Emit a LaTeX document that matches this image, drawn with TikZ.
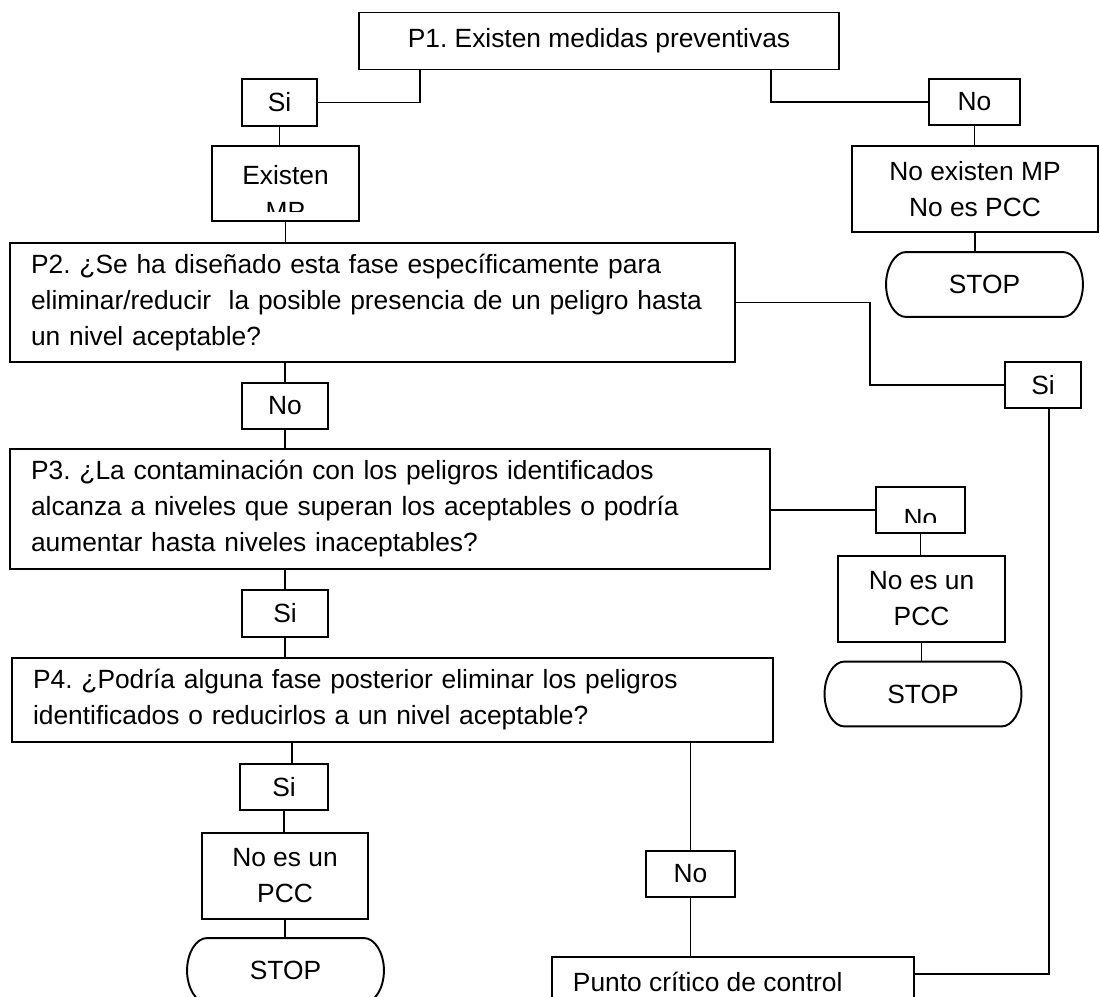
\documentclass[tikz,border=0pt]{standalone}
\usepackage{fontspec}
\setmainfont{Liberation Sans}
\usepackage{tikz}
\usetikzlibrary{calc}
\usetikzlibrary{positioning}
\frenchspacing

\tikzset{
  question/.style={shape=rectangle, draw=black, inner xsep=0.42cm, inner ysep=0pt, align=left},
  answer/.style={shape=rectangle, draw=black, inner sep=0pt, align=center},
  terminal/.style={shape=rectangle, inner sep=0pt, minimum width=3.9cm, minimum height=1.26cm}
}

% outline of a STOP terminal, elliptic ends
\newcommand{\stopoutline}[1]{%
  \draw ([xshift=0.4cm]#1.north west) -- ([xshift=-0.4cm]#1.north east)
    .. controls ([xshift=-0.179cm]#1.north east) and ([yshift=0.348cm]#1.east) .. (#1.east)
    .. controls ([yshift=-0.348cm]#1.east) and ([xshift=-0.179cm]#1.south east) .. ([xshift=-0.4cm]#1.south east)
    -- ([xshift=0.4cm]#1.south west)
    .. controls ([xshift=0.179cm]#1.south west) and ([yshift=-0.348cm]#1.west) .. (#1.west)
    .. controls ([yshift=0.348cm]#1.west) and ([xshift=0.179cm]#1.north west) .. ([xshift=0.4cm]#1.north west)
    -- cycle;}

\begin{document}
\begin{tikzpicture}[x=0.02cm, y=-0.02cm, line width=1.1pt, font=\fontsize{15}{20.5}\selectfont]
        \useasboundingbox (0,0) rectangle (1100,997);
        \clip (0,0) rectangle (1100,997);

        % questions
        \node (p1) at (599,41) [answer, minimum width=9.6cm, minimum height=1.14cm] {P1. Existen medidas preventivas};
        \node (p2) at (372.5,302.5) [question, text width=13.66cm, minimum height=2.38cm] {P2. ¿Se ha diseñado esta fase específicamente para\\eliminar/reducir\ \ la posible presencia de un peligro hasta\\un nivel aceptable?};
        \node (p3) at (390,509) [question, text width=14.36cm, minimum height=2.4cm] {P3. ¿La contaminación con los peligros identificados\\alcanza a niveles que superan los aceptables o podría\\aumentar hasta niveles inaceptables?};
        \node (p4) at (392.5,700) [question, text width=14.38cm, minimum height=1.68cm] {P4. ¿Podría alguna fase posterior eliminar los peligros\\identificados o reducirlos a un nivel aceptable?};

        % answers
        \node (si1) at (279.5,102.5) [answer, minimum width=1.5cm, minimum height=0.94cm] {Si};
        \node (no1) at (974.5,102) [answer, minimum width=1.82cm, minimum height=0.92cm] {No};
        \node (no2) at (285,406) [answer, minimum width=1.72cm, minimum height=0.92cm] {No};
        \node (si2) at (1043,385) [answer, minimum width=1.52cm, minimum height=0.92cm] {Si};
        \node (no3) at (920.5,510) [answer, minimum width=1.78cm, minimum height=0.92cm] {};
        \node (si3) at (285,613.5) [answer, minimum width=1.72cm, minimum height=0.94cm] {Si};
        \node (si4) at (284,787) [answer, minimum width=1.76cm, minimum height=0.92cm] {Si};
        \node (no4) at (690.5,874) [answer, minimum width=1.78cm, minimum height=0.92cm] {No};

        % results
        \node (mp) at (285.5,183.5) [answer, minimum width=2.94cm, minimum height=1.5cm] {};
        \node (nomp) at (975,189) [answer, minimum width=4.92cm, minimum height=1.72cm] {No existen MP\\No es PCC};
        \node (pcc1) at (921.5,599) [answer, minimum width=3.34cm, minimum height=1.72cm] {No es un\\PCC};
        \node (pcc2) at (285,876) [answer, minimum width=3.32cm, minimum height=1.72cm] {No es un\\PCC};
        \node (punto) at (733,997) [answer, minimum width=7.24cm, minimum height=1.6cm] {};
        \node (puntotext) at (572,982) [anchor=west, inner sep=0pt] {Punto crítico de control};

        % texts cut by their boxes
        \begin{scope}
            \clip (mp.north west) rectangle ([yshift=0.2cm]mp.south east);
            \node (mptext) at (285.5,192.5) [align=center] {Existen\\MP};
        \end{scope}
        \begin{scope}
            \clip (no3.north west) rectangle ([yshift=0.22cm]no3.south east);
            \node (no3text) at (920.5,519) {No};
        \end{scope}

        % stops
        \node (stop1) at (984.5,284.5) [terminal] {STOP};
        \node (stop2) at (923,694) [terminal] {STOP};
        \node (stop3) at (285.5,970.5) [terminal] {STOP};
        \stopoutline{stop1}
        \stopoutline{stop2}
        \stopoutline{stop3}

        % connections
        \coordinate (k2) at (870,0);
        \draw[-] ([xshift=1.24cm]p1.south west) |- (si1.east);
        \draw[-] ([xshift=-1.38cm]p1.south east) |- (no1.west);
        \draw[-] (si1.south) -- (si1.south |- mp.north);
        \draw[-] (no1.south) -- (no1.south |- nomp.north);
        \draw[-] (nomp.south) -- (nomp.south |- stop1.north);
        \draw[-] (mp.south) -- (mp.south |- p2.north);
        \draw[-] (p2.east) -| (k2 |- si2.west) -- (si2.west);
        \draw[-] ([xshift=0.12cm]si2.south) |- ([yshift=-0.36cm]punto.north east);
        \draw[-] (no2.north |- p2.south) -- (no2.north);
        \draw[-] (no2.south) -- (no2.south |- p3.north);
        \draw[-] (p3.east |- no3.west) -- (no3.west);
        \draw[-] (no3.south) -- (no3.south |- pcc1.north);
        \draw[-] (pcc1.south) -- (pcc1.south |- stop2.north);
        \draw[-] (si3.north |- p3.south) -- (si3.north);
        \draw[-] (si3.south) -- (si3.south |- p4.north);
        \draw[-] ([xshift=0.16cm]si4.north |- p4.south) -- ([xshift=0.16cm]si4.north);
        \draw[-] (si4.south) -- (si4.south |- pcc2.north);
        \draw[-] (pcc2.south) -- (pcc2.south |- stop3.north);
        \draw[-] (no4.north |- p4.south) -- (no4.north);
        \draw[-] (no4.south) -- (no4.south |- punto.north);
\end{tikzpicture}
\end{document}
